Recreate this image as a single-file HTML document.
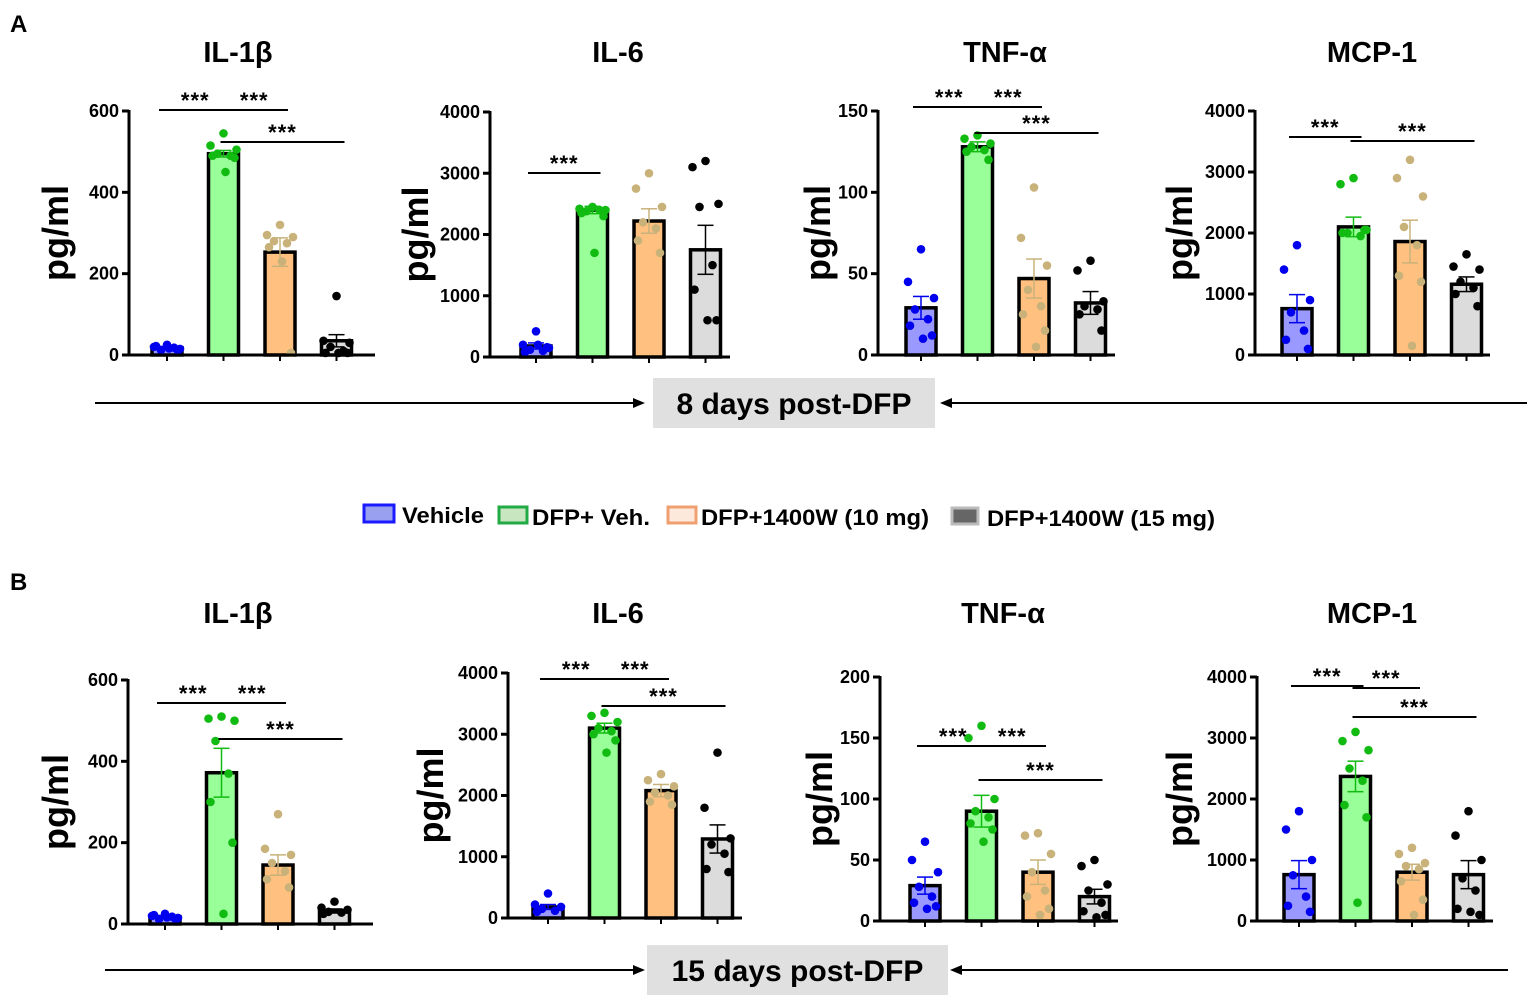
<!DOCTYPE html>
<html><head><meta charset="utf-8"><style>
body{margin:0;background:#fff;}
svg{display:block;font-family:"Liberation Sans",Arial,sans-serif;}
</style></head><body>
<svg id="fig" width="1535" height="1001" viewBox="0 0 1535 1001">
<text x="10" y="32" font-size="24" font-weight="bold">A</text>
<text x="10" y="590" font-size="24" font-weight="bold">B</text>
<g font-size="22" font-weight="bold">
 <g><rect x="364" y="505" width="30" height="17" fill="#9aa0f0" stroke="#1a1aff" stroke-width="3"/><text x="402" y="523" textLength="82" lengthAdjust="spacingAndGlyphs">Vehicle</text></g>
 <g><rect x="499" y="507" width="28" height="16" fill="#c8e6c0" stroke="#22aa44" stroke-width="3"/><text x="532" y="525" textLength="118" lengthAdjust="spacingAndGlyphs">DFP+ Veh.</text></g>
 <g><rect x="668" y="507" width="28" height="16" fill="#fde9dc" stroke="#f0a070" stroke-width="3"/><text x="701" y="525" textLength="228" lengthAdjust="spacingAndGlyphs">DFP+1400W (10 mg)</text></g>
 <g><rect x="952" y="508" width="26" height="16" fill="#666" stroke="#bbb" stroke-width="3"/><text x="987" y="526" textLength="228" lengthAdjust="spacingAndGlyphs">DFP+1400W (15 mg)</text></g>
</g>
<g id="arrows"></g>
<g id="panels"></g>
</svg>
<script>
// ---- data ----
const groups = ["Vehicle","DFP+ Veh.","DFP+1400W (10 mg)","DFP+1400W (15 mg)"];
const titles = ["IL-1β","IL-6","TNF-α","MCP-1","IL-1β","IL-6","TNF-α","MCP-1"];
const axisMax = [600,4000,150,4000,600,4000,200,4000];
const tickStep = [200,1000,50,1000,200,1000,50,1000];
const means = [
 [18,495,253,35],[180,2400,2220,1750],[29,128,47,32],[760,2100,1860,1160],
 [18,372,145,32],[180,3100,2080,1290],[29,90,40,20],[760,2370,800,760]];
const sems = [
 [3,8,35,15],[50,60,200,400],[7,3,12,7],[230,160,350,120],
 [3,60,25,5],[40,80,100,230],[7,13,10,6],[230,250,130,230]];
const pts = [
 [[25,20,15,12,18,22,10,16],[545,515,505,495,490,490,485,450],[320,295,290,280,275,265,5,230],[145,35,30,20,10,5,5,5]],
 [[420,200,150,120,100,80,160,200],[2450,2420,2400,2380,2400,2350,2300,1700],[3000,2750,2450,2200,2100,1900,1700],[3200,3100,2500,2450,1500,1100,600,600]],
 [[65,45,35,28,22,18,12,10],[135,133,130,128,126,125,120],[103,72,55,40,30,25,15,5],[58,52,33,30,28,25,15]],
 [[1800,1400,900,700,400,250,100],[2900,2800,2050,2000,1950,2000,2050],[3200,2900,2600,2100,1800,1300,1200,150],[1650,1450,1400,1200,1100,1000,800]],
 [[25,20,15,12,18,22,10,16],[510,505,500,450,370,300,200,25],[270,185,170,150,130,110,90],[55,40,35,30,28,25]],
 [[400,220,180,150,120,100],[3350,3300,3200,3100,3050,3000,2900,2700],[2350,2250,2150,2050,2000,1900,1850],[2700,1800,1300,1200,1050,800,750]],
 [[65,50,40,28,20,15,12,10],[160,150,100,90,85,80,75,65],[72,70,55,40,25,20,10,5],[50,45,30,25,15,8,5,3]],
 [[1800,1500,1000,750,400,250,150],[3100,2950,2800,2500,2300,1900,1700,300],[1200,1100,950,900,850,650,350,100],[1800,1400,1000,700,500,200,100,150]]];
// significance comparisons [fromGroup,toGroup]
const sig = [[[0,1],[1,2],[1,3]],[[0,1]],[[0,1],[1,2],[1,3]],[[0,1],[1,3]],
 [[0,1],[1,2],[1,3]],[[0,1],[1,2],[1,3]],[[0,1],[1,2],[1,3]],[[0,1],[1,2],[1,3]]];
const sigY = [[110,110,142],[173],[107,107,133],[137,141],[703,703,739],[679,679,706],[746,746,780],[686,688,717]];
// ---- layout (not data) ----
const layout = [
 {ax:129,top:111,bot:355,xe:375,c0:167,tx:238,ty:62,lx:68},
 {ax:490,top:112,bot:357,xe:730,c0:536,tx:618,ty:62,lx:428},
 {ax:878,top:111,bot:355,xe:1115,c0:921,tx:1005,ty:62,lx:830},
 {ax:1255,top:111,bot:355,xe:1490,c0:1297,tx:1372,ty:62,lx:1192},
 {ax:128,top:680,bot:924,xe:373,c0:165,tx:238,ty:623,lx:68},
 {ax:508,top:673,bot:918,xe:742,c0:548,tx:618,ty:623,lx:443},
 {ax:880,top:677,bot:921,xe:1118,c0:925,tx:1003,ty:623,lx:832},
 {ax:1257,top:677,bot:921,xe:1493,c0:1299,tx:1372,ty:623,lx:1192}];
const jitter=[0,-13,13,-6,7,-11,11,2];
const fills=["#9999ff","#99ff99","#ffc080","#dcdcdc"];
const dots=["#0000ee","#11bb11","#c8b27a","#000"];
const NS="http://www.w3.org/2000/svg";
function mk(tag,attrs,parent){const e=document.createElementNS(NS,tag);for(const k in attrs)e.setAttribute(k,attrs[k]);parent.appendChild(e);return e;}
const root=document.getElementById('panels');
layout.forEach((L,p)=>{
 const g=mk('g',{},root);
 
 
 const yS=v=>L.bot-(v/axisMax[p])*(L.bot-L.top);
 const xS=i=>L.c0+i*56.5;
 const t=mk('text',{x:L.tx,y:L.ty,'font-size':29,'font-weight':'bold','text-anchor':'middle'},g);t.textContent=titles[p];
 
 
 const yl=mk('text',{x:L.lx,y:(L.top+L.bot)/2,'font-size':36,'font-weight':'bold','text-anchor':'middle',transform:`rotate(-90 ${L.lx} ${(L.top+L.bot)/2})`},g);yl.textContent='pg/ml';
 
 
 means[p].forEach((m,i)=>{
  const x=xS(i),y=yS(m);
  const b=mk('rect',{x:x-15,y:y,width:30,height:L.bot-y,fill:fills[i],stroke:'#000','stroke-width':3.5},g);
  
  
  const e1=yS(m+sems[p][i]),e2=yS(Math.max(0,m-sems[p][i]));
  mk('line',{x1:x,x2:x,y1:e1,y2:e2,stroke:dots[i],'stroke-width':1.5},g);
  mk('line',{x1:x-8,x2:x+8,y1:e1,y2:e1,stroke:dots[i],'stroke-width':1.5},g);
  mk('line',{x1:x-8,x2:x+8,y1:e2,y2:e2,stroke:dots[i],'stroke-width':1.5},g);
  pts[p][i].forEach((v,k)=>{
   const c=mk('circle',{cx:x+jitter[k%jitter.length],cy:yS(v),r:4.3,fill:dots[i]},g);
   
   
  });
  mk('line',{x1:x,x2:x,y1:L.bot,y2:L.bot+6,stroke:'#000','stroke-width':2},g);
 });
 mk('line',{x1:L.ax,x2:L.ax,y1:L.top-1,y2:L.bot+1.5,stroke:'#000','stroke-width':3},g);
 mk('line',{x1:L.ax-1.5,x2:L.xe,y1:L.bot,y2:L.bot,stroke:'#000','stroke-width':3},g);
 for(let v=0;v<=axisMax[p];v+=tickStep[p]){
  const y=yS(v);
  mk('line',{x1:L.ax-7,x2:L.ax,y1:y,y2:y,stroke:'#000','stroke-width':3},g);
  const tl=mk('text',{x:L.ax-10,y:y+6,'font-size':18,'font-weight':'bold','text-anchor':'end'},g);tl.textContent=v;
  
  
 }
 sig[p].forEach((s,j)=>{
  const x1=xS(s[0])-8+(s[0]>0?5:0),x2=xS(s[1])+8,y=sigY[p][j];
  mk('line',{x1:x1,x2:x2,y1:y,y2:y,stroke:'#000','stroke-width':2},g);
  const st=mk('text',{x:(x1+x2)/2,y:y-2,'font-size':22,'font-weight':'bold','text-anchor':'middle','letter-spacing':'1'},g);st.textContent='***';
  
  
 });
});
const ar=document.getElementById('arrows');
[[95,645,653,935,940,1527,403,378,'8 days post-DFP'],[105,645,647,948,950,1508,970,945,'15 days post-DFP']].forEach(a=>{
 const g=mk('g',{},ar);
 
 
 mk('line',{x1:a[0],x2:a[1]-8,y1:a[6],y2:a[6],stroke:'#000','stroke-width':2},g);
 mk('polygon',{points:`${a[1]},${a[6]} ${a[1]-12},${a[6]-5} ${a[1]-12},${a[6]+5}`,fill:'#000'},g);
 mk('rect',{x:a[2],y:a[7],width:a[3]-a[2],height:50,fill:'#e0e0e0'},g);
 const t=mk('text',{x:(a[2]+a[3])/2,y:a[7]+36,'font-size':30,'font-weight':'bold','text-anchor':'middle'},g);t.textContent=a[8];
 
 
 mk('line',{x1:a[4]+8,x2:a[5],y1:a[6],y2:a[6],stroke:'#000','stroke-width':2},g);
 mk('polygon',{points:`${a[4]},${a[6]} ${a[4]+12},${a[6]-5} ${a[4]+12},${a[6]+5}`,fill:'#000'},g);
});
</script>
</body></html>
